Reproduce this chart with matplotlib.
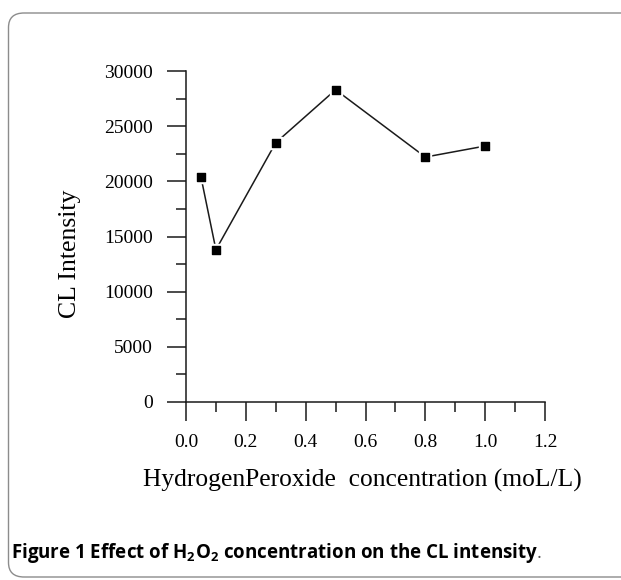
import numpy as np
import matplotlib.pyplot as plt
from matplotlib.patches import FancyBboxPatch
from matplotlib.ticker import MultipleLocator

# data
conc = [0.05, 0.1, 0.3, 0.5, 0.8, 1.0]
intensity = [20400, 13800, 23500, 28300, 22200, 23200]

x_ticks = [0.0, 0.2, 0.4, 0.6, 0.8, 1.0, 1.2]
y_ticks = [0, 5000, 10000, 15000, 20000, 25000, 30000]

plt.rcParams['mathtext.default'] = 'regular'

fig = plt.figure(figsize=(6.21, 5.8), dpi=100)

# rounded frame around the figure (right side runs off the image)
frame = FancyBboxPatch((8.5 / 621, 3 / 580), 640 / 621, 564 / 580,
                       boxstyle="round,pad=0,rounding_size=0.025",
                       transform=fig.transFigure, fill=False,
                       edgecolor='#8c8c8c', linewidth=1.0)
fig.patches.append(frame)

ax = fig.add_axes([186 / 621, 178 / 580, 359 / 621, 331 / 580])

serif = ['Liberation Serif', 'DejaVu Serif']

# line first, then a white halo and the black squares (gap like Origin)
ax.plot(conc, intensity, color='#1a1a1a', linewidth=1.1, zorder=2, clip_on=False)
ax.scatter(conc, intensity, marker='s', s=80, color='white', zorder=3, clip_on=False)
ax.scatter(conc, intensity, marker='s', s=33, color='black', zorder=4, clip_on=False)

ax.set_xlim(0, 1.2)
ax.set_ylim(0, 30000)
ax.set_xticks(x_ticks)
ax.set_yticks(y_ticks)
ax.set_xticklabels(['%.1f' % v for v in x_ticks])
ax.set_yticklabels([str(v) for v in y_ticks])
ax.xaxis.set_minor_locator(MultipleLocator(0.1))
ax.yaxis.set_minor_locator(MultipleLocator(2500))

for s in ['top', 'right']:
    ax.spines[s].set_visible(False)
for s in ['left', 'bottom']:
    ax.spines[s].set_linewidth(1.1)
    ax.spines[s].set_color('#1a1a1a')

ax.tick_params(which='major', direction='out', length=14, width=1.1,
               color='#1a1a1a', labelsize=14)
ax.tick_params(which='minor', direction='out', length=7, width=1.1, color='#1a1a1a')
ax.tick_params(axis='x', pad=9)
ax.tick_params(axis='y', pad=10)
for lbl in ax.get_xticklabels() + ax.get_yticklabels():
    lbl.set_family(serif)

fig.text(70 / 621, 1 - 254 / 580, 'CL Intensity', rotation=90, family=serif,
         fontsize=18.5, ha='center', va='center')
fig.text(362 / 621, 1 - 480 / 580, 'HydrogenPeroxide  concentration (moL/L)',
         family=serif, fontsize=18.4, ha='center', va='center')

cap = fig.text(11 / 621, 1 - 553 / 580,
               'Figure 1 Effect of H$_2$O$_2$ concentration on the CL intensity',
               family=['Open Sans', 'DejaVu Sans'], fontweight='bold', fontsize=13.5,
               ha='left', va='center')
bb = cap.get_window_extent(fig.canvas.get_renderer())
fig.text(bb.x1 / fig.bbox.width - 0.002, 1 - 553 / 580, '.',
         family=['Open Sans', 'DejaVu Sans'], fontsize=13.5, color='#555555',
         ha='left', va='center')

fig.savefig('out.png', dpi=100)
